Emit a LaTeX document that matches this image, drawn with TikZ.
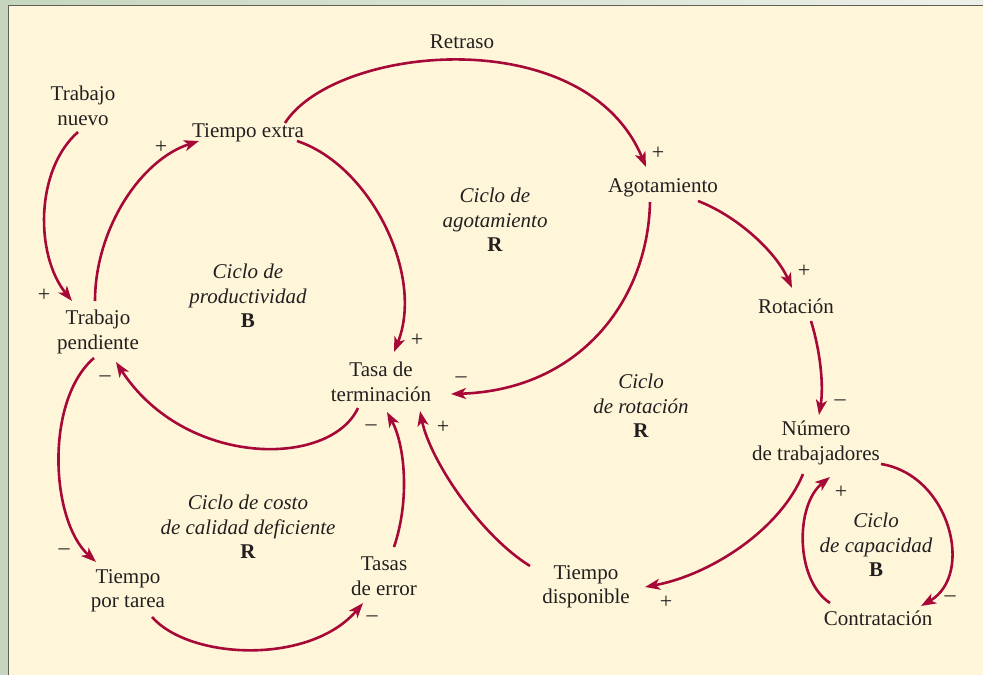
\documentclass[tikz,border=0pt]{standalone}
\usepackage{fontspec}
\setmainfont{Liberation Serif}
\usetikzlibrary{arrows.meta}
\definecolor{sage}{RGB}{198,214,190}
\definecolor{toplight}{RGB}{236,240,233}
\definecolor{cream}{RGB}{255,246,217}
\definecolor{bordergray}{RGB}{95,95,88}
\definecolor{crim}{RGB}{166,8,56}
\definecolor{ink}{RGB}{35,31,32}
\tikzset{
  lbl/.style={font=\fontsize{21}{24.5}\selectfont, align=center, inner sep=0pt, text=ink},
  cyc/.style={font=\fontsize{21}{24.5}\selectfont\itshape, align=center, inner sep=0pt, text=ink},
  sgn/.style={font=\fontsize{22}{24}\selectfont, inner sep=0pt, text=ink},
  conn/.style={draw=crim, line width=2.6pt, -{Stealth[length=15pt,width=11pt,inset=4pt]}}
}
\begin{document}
\begin{tikzpicture}[x=1pt,y=-1pt]
\useasboundingbox (0,0) rectangle (983,675);
% background
\fill[sage] (0,0) rectangle (983,675);
\shade[left color=sage, right color=toplight] (0,0) rectangle (983,6);
\fill[cream] (9,6) rectangle (983,675);
\draw[bordergray, line width=1.8pt] (8.5,675) -- (8.5,5.5) -- (983,5.5);

% variables
\node[lbl] (ret) at (462,42) {Retraso};
\node[lbl] (tn)  at (83,106) {Trabajo\\nuevo};
\node[lbl] (te)  at (248,133) {Tiempo extra};
\node[lbl] (ag)  at (663,188) {Agotamiento};
\node[lbl] (ro)  at (796,306) {Rotación};
\node[lbl] (tp)  at (98,332) {Trabajo\\pendiente};
\node[lbl] (tt)  at (381,382) {Tasa de\\terminación};
\node[lbl] (nt)  at (816,443) {Número\\de trabajadores};
\node[lbl] (ter) at (384,576) {Tasas\\de error};
\node[lbl] (tpt) at (128,591) {Tiempo\\por tarea};
\node[lbl] (td)  at (586,587) {Tiempo\\disponible};
\node[lbl] (co)  at (878,618) {Contratación};

% loop labels
\node[cyc] (c1) at (495,220) {Ciclo de\\agotamiento\\\textup{\textbf{R}}};
\node[cyc] (c2) at (248,296) {Ciclo de\\productividad\\\textup{\textbf{B}}};
\node[cyc] (c3) at (641,406) {Ciclo\\de rotación\\\textup{\textbf{R}}};
\node[cyc] (c4) at (248,527) {Ciclo de costo\\de calidad deficiente\\\textup{\textbf{R}}};
\node[cyc] (c5) at (876,545) {Ciclo\\de capacidad\\\textup{\textbf{B}}};

% connectors
\draw[conn] ([shift={(-5,26)}]tn.center) .. controls (35,170) and (35,255) .. ([shift={(-26,-31)}]tp.center);
\draw[conn] ([shift={(-3,-31)}]tp.center) .. controls (95,230) and (140,160) .. ([shift={(-49,8)}]te.center);
\draw[conn] ([shift={(49,8)}]te.center) .. controls (370,165) and (425,275) .. ([shift={(13,-30)}]tt.center);
\draw[conn] ([shift={(37,-10)}]te.center) .. controls (335,45) and (585,20) .. ([shift={(-17,-21)}]ag.center);
\draw[conn] ([shift={(-13,14)}]ag.center) .. controls (648,300) and (580,390) .. ([shift={(70,12)}]tt.center);
\draw[conn] ([shift={(35,13)}]ag.center) .. controls (735,215) and (775,250) .. ([shift={(-4,-18)}]ro.center);
\draw[conn] ([shift={(15,15)}]ro.center) .. controls (820,350) and (824,385) .. ([shift={(3,-28)}]nt.center);
\draw[conn] ([shift={(-13,31)}]nt.center) .. controls (780,530) and (710,575) .. ([shift={(59,0)}]td.center);
\draw[conn] ([shift={(-56,-21)}]td.center) .. controls (480,535) and (430,460) .. ([shift={(39,29)}]tt.center);
\draw[conn] ([shift={(-23,26)}]tt.center) .. controls (330,468) and (185,468) .. ([shift={(18,30)}]tp.center);
\draw[conn] ([shift={(-4,26)}]tp.center) .. controls (45,400) and (50,520) .. ([shift={(-32,-29)}]tpt.center);
\draw[conn] ([shift={(24,26)}]tpt.center) .. controls (190,660) and (310,665) .. ([shift={(-21,27)}]ter.center);
\draw[conn] ([shift={(10,-29)}]ter.center) .. controls (410,500) and (405,445) .. ([shift={(6,30)}]tt.center);
\draw[conn] ([shift={(65,21)}]nt.center) .. controls (950,475) and (975,575) .. ([shift={(43,-12)}]co.center);
\draw[conn] ([shift={(-48,-15)}]co.center) .. controls (795,580) and (795,505) .. ([shift={(14,34)}]nt.center);

% polarity signs
\node[sgn] (s1)  at (44,295) {+};
\node[sgn] (s2)  at (161,147) {+};
\node[sgn] (s3)  at (417,340) {+};
\node[sgn] (s4)  at (658,153) {+};
\node[sgn] (s5)  at (461,380) {\textendash};
\node[sgn] (s6)  at (804,271) {+};
\node[sgn] (s7)  at (840,403) {\textendash};
\node[sgn] (s8)  at (666,602) {+};
\node[sgn] (s9)  at (443,427) {+};
\node[sgn] (s10) at (371,428) {\textendash};
\node[sgn] (s11) at (105,379) {\textendash};
\node[sgn] (s12) at (64,552) {\textendash};
\node[sgn] (s13) at (372,619) {\textendash};
\node[sgn] (s14) at (950,599) {\textendash};
\node[sgn] (s15) at (841,492) {+};
\end{tikzpicture}
\end{document}
